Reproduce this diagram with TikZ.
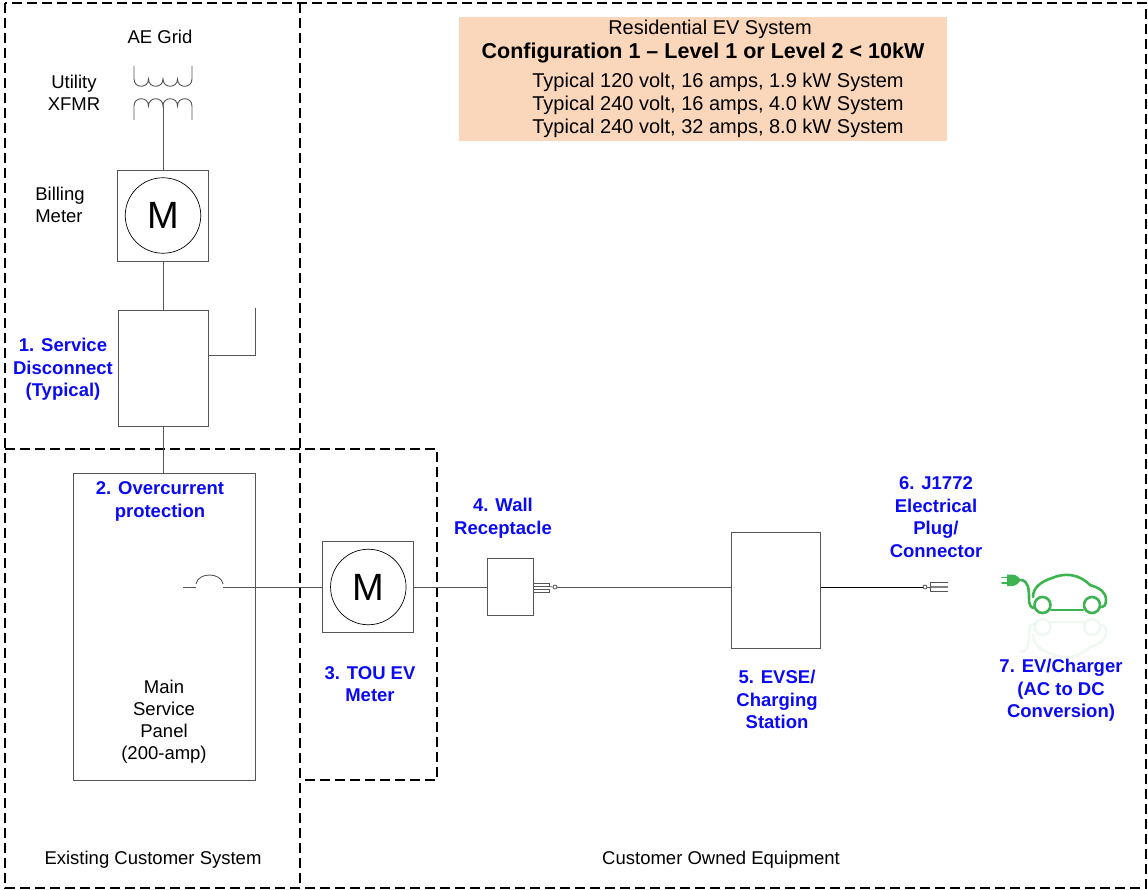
\documentclass[tikz,border=0pt]{standalone}
\usepackage{fontspec}
\setmainfont{Liberation Sans}
\usetikzlibrary{positioning,calc}
\definecolor{itemblue}{RGB}{10,10,245}
\definecolor{titlefill}{RGB}{250,214,186}
\definecolor{evgreen}{RGB}{60,180,80}
\definecolor{wiregray}{RGB}{85,85,85}

\tikzset{
  zone/.style={draw=black, line width=1.5pt, dash pattern=on 10pt off 5pt},
  wire/.style={draw=wiregray, line width=0.9pt},
  devbox/.style={draw=wiregray, line width=0.9pt, inner sep=0pt},
  meterdial/.style={circle, draw=black, line width=0.7pt, inner sep=0pt, minimum size=75.5pt, font=\fontsize{38}{38}\selectfont},
  pin/.style={circle, draw=wiregray, line width=0.8pt, inner sep=0pt, minimum size=4pt},
  plainlabel/.style={font=\fontsize{18.5}{22}\selectfont, align=center},
  itemlabel/.style={text=itemblue, font=\bfseries\fontsize{18.5}{22.7}\selectfont, align=center},
  titletext/.style={font=\fontsize{20}{23}\selectfont}
}

% EV car icon
\newcommand{\evplug}{%
  \fill (1007,574.5) -- (1013,574.5) .. controls (1017,575) and (1019,578) .. (1021,580)
        .. controls (1019,582) and (1017,585.5) .. (1013,586) -- (1007,586) -- cycle;
  \draw[line width=1.6pt] (1002,577.5) -- (1007,577.5) (1002,583) -- (1007,583);
}
\newcommand{\evcar}{%
  \draw (1021,580) .. controls (1028,581) and (1029,588) .. (1029,598)
        .. controls (1029,606) and (1031,608) .. (1035,608);
  \draw (1033,597) .. controls (1033,588) and (1040,582) .. (1052,578)
        .. controls (1064,573) and (1078,573) .. (1090,585)
        .. controls (1100,588) and (1106,592) .. (1106,600)
        .. controls (1106,605) and (1104,607) .. (1102,607);
  \draw (1042.5,605) circle[radius=8pt];
  \draw (1092,605) circle[radius=8pt];
  \draw (1051,610) -- (1083,610);
}

\begin{document}
\begin{tikzpicture}[x=1pt,y=-1pt]
\useasboundingbox (0,0) rectangle (1148,890);

% zones
\draw[zone] (5,3) rectangle (1146,888);
\draw[zone] (300,3) -- (300,888);
\draw[zone] (5,449) -- (437,449) -- (437,780) -- (300,780);
\node[plainlabel] (existlbl) at (153,860) {Existing Customer System};
\node[plainlabel] (ownlbl) at (721,860) {Customer Owned Equipment};

% title block
\node[fill=titlefill, minimum width=488pt, minimum height=124pt] (title) at (703,79) {};
\node[titletext] (ttlsys) at (710,29) {Residential EV System};
\node[font=\bfseries\fontsize{21.5}{24}\selectfont] (ttlcfg) at (703,53) {Configuration 1 -- Level 1 or Level 2 < 10kW};
\node[titletext] (ttlone) at (718,82) {Typical 120 volt, 16 amps, 1.9 kW System};
\node[titletext] (ttltwo) at (718,105) {Typical 240 volt, 16 amps, 4.0 kW System};
\node[titletext] (ttlthree) at (718,128) {Typical 240 volt, 32 amps, 8.0 kW System};

% utility transformer
\node[plainlabel] (grid) at (160,37) {AE Grid};
\node[plainlabel] (xfmrlbl) at (74,92.5) {Utility\\XFMR};
\draw[wire] (134,66) -- (134,79)
  .. controls (134,88.7) and (148.5,88.7) .. (148.5,79)
  .. controls (148.5,88.7) and (163,88.7) .. (163,79)
  .. controls (163,88.7) and (177.5,88.7) .. (177.5,79)
  .. controls (177.5,88.7) and (192,88.7) .. (192,79) -- (192,66);
\draw[wire] (134,120) -- (134,106)
  .. controls (134,96.3) and (148.5,96.3) .. (148.5,106)
  .. controls (148.5,96.3) and (163,96.3) .. (163,106)
  .. controls (163,96.3) and (177.5,96.3) .. (177.5,106)
  .. controls (177.5,96.3) and (192,96.3) .. (192,106) -- (192,120);
\coordinate (xfmrtap) at (163,106);

% billing meter
\node[devbox, minimum width=91pt, minimum height=91pt] (bill) at (163,215.5) {};
\node[meterdial] (billdial) at (bill.center) {M};
\node[plainlabel, align=left] (billlbl) at (60,205) {Billing\\Meter};
\draw[wire] (xfmrtap) -- (bill.north);

% service disconnect
\node[devbox, minimum width=90pt, minimum height=116pt] (disc) at (163,368) {};
\coordinate (discaux) at (255,308);
\draw[wire] (bill.south) -- (disc.north);
\draw[wire] ($(disc.east)+(0,-13)$) -| (discaux);
\node[itemlabel] (disclbl) at (63,369.5) {1. Service\\Disconnect\\(Typical)};

% main service panel
\node[devbox, minimum width=182pt, minimum height=307pt] (panel) at (164,626.5) {};
\draw[wire] (disc.south) -- (disc.south |- panel.north);
\node[itemlabel] (ocplbl) at (160,501.5) {2. Overcurrent\\protection};
\node[plainlabel] (panellbl) at (164,722) {Main\\Service\\Panel\\(200-amp)};
\coordinate (brkin) at (183,587);
\coordinate (brkout) at (223,587);
\draw[wire] (brkin) -- ++(13,0);
\draw[wire] (196,584) .. controls (198,572) and (221,572) .. (223,584);

% TOU EV meter
\node[devbox, minimum width=91pt, minimum height=91pt] (tou) at (368.3,587) {};
\node[meterdial] (toudial) at (tou.center) {M};
\node[itemlabel] (toulbl) at (370,684) {3. TOU EV\\Meter};
\draw[wire] (brkout) -- (tou.west);

% wall receptacle
\node[devbox, minimum width=46pt, minimum height=57pt] (wall) at (510.3,587) {};
\node[itemlabel] (walllbl) at (503,518.5) {4. Wall\\Receptacle};
\draw[wire] (tou.east) -- (wall.west);
\draw[wire, line width=0.7pt] (wall.east) ++(0,-3.7) rectangle ++(16,3.4);
\draw[wire, line width=0.7pt] (wall.east) ++(0,2) rectangle ++(16,3.7);
\node[pin] (wallpin) at (555,587) {};
\draw[wire, line width=0.7pt] (549,586.5) -- (wallpin.west);

% EVSE
\node[devbox, minimum width=89pt, minimum height=116pt] (evse) at (776.3,590.5) {};
\node[itemlabel] (evselbl) at (777,699.5) {5. EVSE/\\Charging\\Station};
\draw[wire] (wallpin) -- (wallpin -| evse.west);

% J1772 connector
\node[pin] (jplug) at (925,587) {};
\node[itemlabel] (jlbl) at (936,517) {6. J1772\\Electrical\\Plug/\\Connector};
\draw[black, line width=0.8pt] (evse.east |- jplug) -- (jplug.west);
\draw[wire, line width=0.7pt] (jplug.east) -- (930,587);
\draw[wire, line width=0.7pt] (948,582) -- (930,582) -- (930,591) -- (948,591);
\draw[gray, line width=2pt] (931,586.5) -- (948,586.5);

% EV / charger
\begin{scope}[evgreen, fill=evgreen, line width=2.6pt, line cap=round]
  \evplug
  \evcar
\end{scope}
\begin{scope}[evgreen, line width=2.6pt, line cap=round, opacity=0.08, shift={(0,1232)}, yscale=-1]
  \evcar
\end{scope}
\node[itemlabel] (evlbl) at (1061,690.5) {7. EV/Charger\\(AC to DC\\Conversion)};
\end{tikzpicture}
\end{document}
